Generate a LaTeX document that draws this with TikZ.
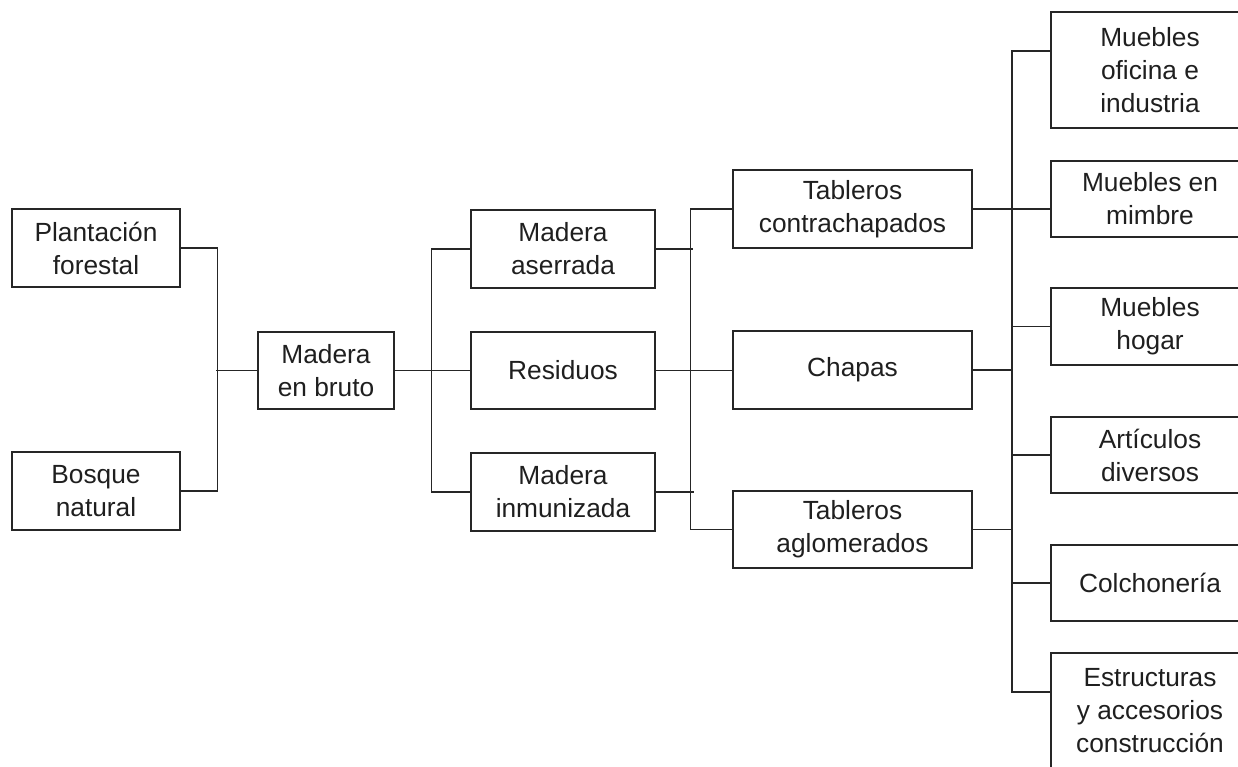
\documentclass[tikz,border=0pt]{standalone}
\usepackage{fontspec}
\setmainfont{Liberation Sans}
\begin{document}
\begin{tikzpicture}[x=1pt,y=-1pt,
  every node/.style={font=\fontsize{26.3}{33}\selectfont, text=black!88},
  box/.style={draw=black!85, line width=1.4pt, align=center, inner sep=0pt},
  link/.style={draw=black!85, line width=1.4pt}]
\useasboundingbox (0,0) rectangle (1238,766);
\clip (0,0) rectangle (1238,766);
% column 1
\node[box, minimum width=168, minimum height=78] (A) at (96,248) {Plantación\\forestal};
\node[box, minimum width=168, minimum height=78] (B) at (96,491) {Bosque\\natural};
% column 2
\node[box, minimum width=136, minimum height=77] (C) at (326,370.5) {Madera\\en bruto};
% column 3
\node[box, minimum width=184, minimum height=78] (D) at (563,249) {Madera\\aserrada};
\node[box, minimum width=184, minimum height=77] (E) at (563,370.5) {Residuos};
\node[box, minimum width=184, minimum height=78] (F) at (563,492) {Madera\\inmunizada};
% column 4
\node[box, minimum width=239, minimum height=78] (G) at (852.5,209) {Tableros\\contrachapados};
\node[box, minimum width=239, minimum height=78] (H) at (852.5,370) {Chapas};
\node[box, minimum width=239, minimum height=77] (I) at (852.5,529.5) {Tableros\\aglomerados};
% column 5
\node[box, minimum width=198, minimum height=116] (J) at (1150,70) {Muebles\\oficina e\\industria};
\node[box, minimum width=198, minimum height=76] (K) at (1150,199) {Muebles en\\mimbre};
\node[box, minimum width=198, minimum height=77] (L) at (1150,326.5) {Muebles\\hogar};
\node[box, minimum width=198, minimum height=76] (M) at (1150,455) {Artículos\\diversos};
\node[box, minimum width=198, minimum height=76] (N) at (1150,583) {Colchonería};
\node[box, minimum width=198, minimum height=116] (O) at (1150,711) {Estructuras\\y accesorios\\construcción};
% connectors: column 1 -> 2
\draw[link] (A.east) -- ++(37,0) |- (B.east);
\draw[link] (C.west) -- ++(-41,0);
% column 2 -> 3
\draw[link] (C.east) -- (C.east -| E.west);
\draw[link] (D.west) -- ++(-39,0) |- (F.west);
% column 3 -> 4
\draw[link] (G.west) -- ++(-42,0) |- (I.west);
\draw[link] (D.east) -- ++(37,0);
\draw[link] (E.east) -- (E.east -| H.west);
\draw[link] (F.east) -- ++(38,0);
% column 4 -> 5
\coordinate (s4t) at (1012,51);
\coordinate (s4b) at (1012,692);
\draw[link] (J.west |- s4t) -- (s4t) -- (s4b) -- (O.west |- s4b);
\draw[link] (G.east) -- (G.east -| K.west);
\draw[link] (H.east) -- ++(40,0);
\draw[link] (I.east) -- ++(40,0);
\draw[link] (L.west) -- ++(-39,0);
\draw[link] (M.west) -- ++(-39,0);
\draw[link] (N.west) -- ++(-39,0);
\end{tikzpicture}
\end{document}
